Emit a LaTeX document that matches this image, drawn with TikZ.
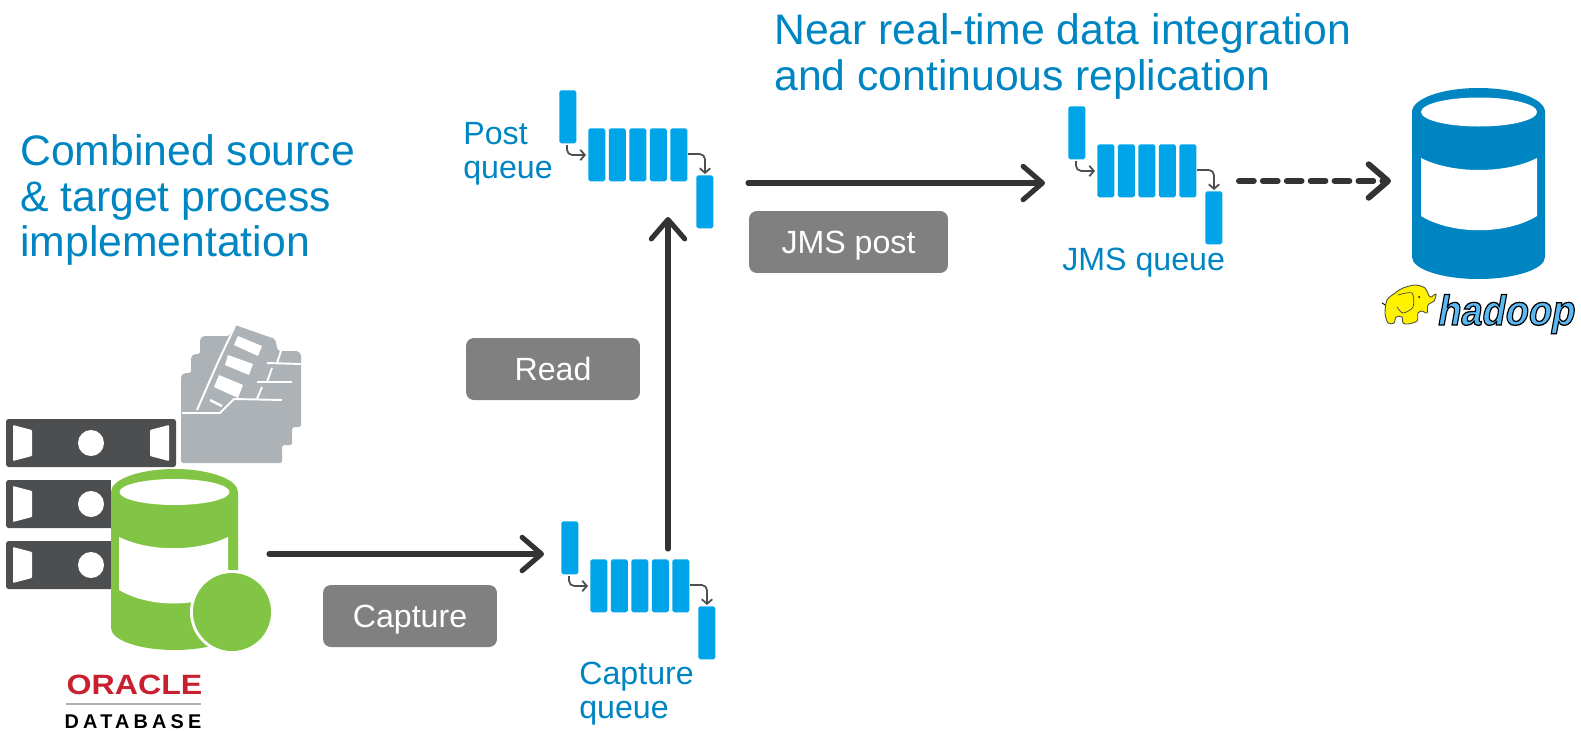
\documentclass[tikz,border=0pt]{standalone}
\usepackage{fontspec}
\setmainfont{Liberation Sans}
\usepackage{amsmath,amssymb}
\usetikzlibrary{arrows.meta}
\definecolor{dellblue}{HTML}{0085C3}
\definecolor{queueblue}{HTML}{00A4E9}
\definecolor{dbgreen}{HTML}{82C545}
\definecolor{servergray}{HTML}{4D4E50}
\definecolor{foldergray}{HTML}{ADB2B6}
\definecolor{stepgray}{HTML}{808080}
\definecolor{arrowdark}{HTML}{333333}
\definecolor{oraclered}{HTML}{C8202F}
\definecolor{elephantyellow}{HTML}{FFF200}
\newfontface\hadoopfont[FakeBold=3,FakeSlant=0.2]{Liberation Sans Bold}
\tikzset{
	titletext/.style={anchor=west,align=left,text=dellblue,font=\fontsize{24.3}{26}\selectfont,inner sep=0pt},
	queuetext/.style={anchor=west,align=left,text=dellblue,font=\fontsize{18.3}{19.3}\selectfont,inner sep=0pt},
	stepbox/.style={fill=stepgray,rounded corners=4.5pt,text=white,font=\fontsize{18.3}{20}\selectfont,inner sep=0pt,minimum height=1.24cm,text height=13.1pt,text depth=0pt},
	slot/.style={fill=queueblue,rounded corners=1pt,inner sep=0pt,minimum width=0.34cm,minimum height=1.06cm},
	flow/.style={arrowdark,line width=2.9pt,line cap=round,-{Straight Barb[length=11pt,width=19pt,round]}},
	feed/.style={servergray,line width=1pt,rounded corners=3pt,-{Straight Barb[length=2.6pt,width=6pt]}},
	folderline/.style={white,line width=1.1pt}
}
% one queue, x and y are the top left corner of the waiting block
\newcommand{\queuedraw}[3]{
	\node[slot,anchor=north west] (#1first) at (#2,#3) {};
	\foreach \k in {0,...,4}
		\node[slot,anchor=north west] (#1mid\k) at (#2+29+20.5*\k,#3+38) {};
	\node[slot,anchor=north west] (#1last) at (#2+137,#3+85) {};
	\draw[feed] (#2+8,#3+55)--(#2+8,#3+65)--(#2+27,#3+65);
	\draw[feed] (#2+129,#3+64)--(#2+146,#3+64)--(#2+146,#3+84);
}
\newcommand{\serverdraw}[2]{
	\fill[servergray,rounded corners=1.5pt] (6,#1) rectangle (176,#1+48);
	\fill[white,rounded corners=0.5pt] (13,#1+6)--(32,#1+11)--(32,#1+37)--(13,#1+42)--cycle;
	\fill[white] (91,#1+24) circle (13);
	#2
}
\begin{document}
\begin{tikzpicture}[x=0.02cm,y=-0.02cm]
	\useasboundingbox (0,0) rectangle (1581,730);

	\node[titletext] (sourcetitle) at (20,200) {Combined source\\\& target process\\implementation};
	\node[titletext] (neartitle) at (774,56.5) {Near real-time data integration\\and continuous replication};

	% folder
	\fill[foldergray,rounded corners=1pt] (181,463)--(181,376)--(184,373)--(191,373)--(191,357)--(194,354)--(200,354)--(200,339)--(203,336)--(229,336)
		--(235,325)--(275,339)--(278,351)--(298,351)--(301,354)--(301,427)--(292,427)--(292,445)--(282,445)--(282,463)--cycle;
	\draw[folderline] (182,413)--(220,413)--(234,399)--(282,400);
	\draw[folderline] (197,410)--(218,362)--(235,326);
	\draw[folderline] (257,382)--(292,382) (267,363)--(301,364);
	\draw[folderline] (257,399)--(262,387) (267,382)--(272,368) (277,363)--(281,351);
	\draw[folderline,line width=1.4pt] (210,400)--(222,406);
	\fill[white] (238,336)--(262,346)--(258,356)--(234,345)--cycle;
	\fill[white] (228,355)--(253,364)--(249,375)--(225,365)--cycle;
	\fill[white] (219,375)--(243,385)--(238,398)--(214,387)--cycle;

	% servers
	\serverdraw{419}{\fill[white,rounded corners=0.5pt] (169,425)--(150,430)--(150,456)--(169,461)--cycle;}
	\serverdraw{480}{}
	\serverdraw{541}{}

	% source database
	\fill[white] (111,468) rectangle (282,655);
	\fill[dbgreen] (111,492) arc[start angle=180,end angle=360,x radius=63.5,y radius=23]
		--(238,628) arc[start angle=0,end angle=180,x radius=63.5,y radius=22]--cycle;
	\fill[white] (174.5,492) ellipse (55 and 13);
	\fill[white] (119,537) .. controls (150,552) and (197,552) .. (228,537)--(228,590) .. controls (197,608) and (150,608) .. (119,590)--cycle;
	\fill[white] (232,612) circle (42);
	\fill[dbgreen] (232,612) circle (39);

	% oracle logo
	\node[text=oraclered,font=\fontsize{15.9}{16}\bfseries\selectfont,xscale=1.15,inner sep=0pt] (oracle) at (134.5,685) {ORACLE};
	\draw[foldergray,line width=0.7pt] (66,704)--(201,704);
	\node[text=black,font=\fontsize{11.3}{12}\bfseries\addfontfeature{LetterSpace=21}\selectfont,inner sep=0pt] (database) at (133,721.5) {DATABASE};

	% queues
	\queuedraw{post}{559}{90}
	\queuedraw{capture}{561}{521}
	\queuedraw{jms}{1068}{106}
	\node[queuetext] (postlabel) at (463,154) {Post\\queue};
	\node[queuetext] (capturelabel) at (579,694) {Capture\\queue};
	\node[queuetext] (jmslabel) at (1062,263) {JMS queue};

	% target database
	\fill[dellblue] (1412,112) arc[start angle=180,end angle=360,x radius=66.5,y radius=24]
		--(1545,257) arc[start angle=0,end angle=180,x radius=66.5,y radius=22]--cycle;
	\fill[white] (1479,112) ellipse (58 and 14.5);
	\fill[white] (1421,158) .. controls (1452,174) and (1506,174) .. (1537,158)--(1537,216) .. controls (1506,235) and (1452,235) .. (1421,216)--cycle;

	% hadoop logo
	\draw[black,line width=0.5pt] (1382,303)--(1387,306);
	\fill[elephantyellow,draw=black!70,line width=0.5pt] plot[smooth cycle] coordinates{(1387,300)(1395,293)(1403,288)(1415,285)(1425,288)(1430,297)(1436,294)(1434,301)(1428,305)(1427,313)(1422,311)(1418,313)(1417,321)(1408,324)(1403,323)(1402,317)(1396,317)(1394,323)(1388,323)(1385,313)};
	\draw[black!70,line width=0.4pt] plot[smooth] coordinates{(1398,295)(1412,293)(1413,307)(1403,313)(1397,307)};
	\fill[black] (1419,297) circle (1);
	\node[font=\fontsize{24}{25}\hadoopfont\selectfont,inner sep=0pt,anchor=base west,xscale=0.9] (hadoop) at (1436,325) {\special{pdf:bcolor [0.36 0.72 0.95] [0 0 0]}hadoop\special{pdf:ecolor}};

	% steps
	\node[stepbox,minimum width=3.48cm] (capturestep) at (410,616) {Capture};
	\node[stepbox,minimum width=3.48cm] (readstep) at (553,369) {Read};
	\node[stepbox,minimum width=3.98cm] (jmsstep) at (848.5,242) {JMS post};

	% flows
	\coordinate (oracleout) at (269,554);
	\coordinate (capturein) at (544,554);
	\coordinate (captureup) at (668,549);
	\coordinate (postin) at (668,217);
	\coordinate (postout) at (748,183);
	\coordinate (jmsin) at (1045,183);
	\coordinate (jmsout) at (1239,181);
	\coordinate (hadoopin) at (1391,181);
	\draw[flow] (oracleout)--(capturein);
	\draw[flow] (captureup)--(postin);
	\draw[flow] (postout)--(jmsin);
	\draw[flow,line width=3.4pt,dash pattern=on 8.4pt off 5.2pt] (jmsout)--(hadoopin);
\end{tikzpicture}
\end{document}
